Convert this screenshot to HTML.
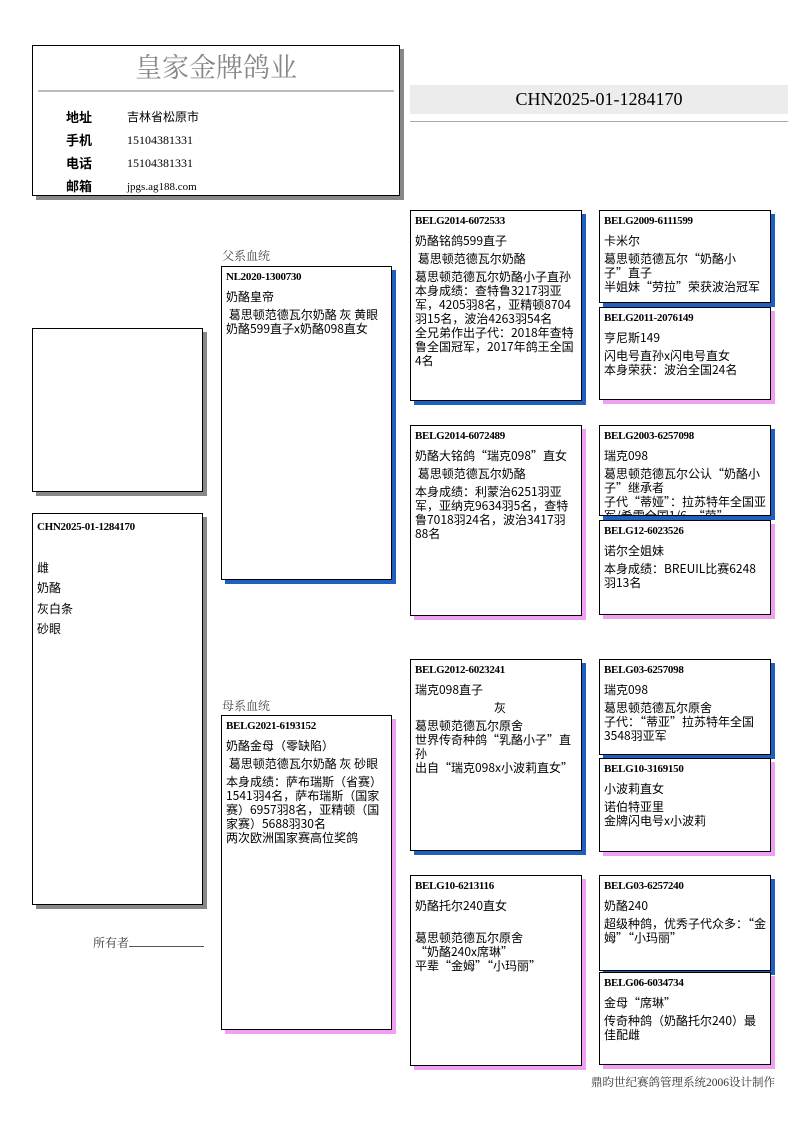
<!DOCTYPE html>
<html><head><meta charset="utf-8">
<style>
*{margin:0;padding:0;box-sizing:border-box}
body{width:800px;height:1132px;background:#fff;position:relative;overflow:hidden;font-family:"Liberation Sans","Noto Sans CJK SC","WenQuanYi Zen Hei",sans-serif;font-size:12px;color:#000}
.a{position:absolute}
.box{position:absolute;border:1px solid #000;background:#fff;overflow:hidden;padding:3px 4px;line-height:14px;font-family:"Noto Sans CJK SC","WenQuanYi Zen Hei",sans-serif}
.m{box-shadow:4px 4px 0 #1f5fbf}
.f{box-shadow:4px 4px 0 #f0a0f0}
.g{box-shadow:4px 4px 0 #888}
.id{font-family:"Liberation Serif","Noto Serif CJK SC",serif;font-weight:bold;font-size:11px;letter-spacing:-0.3px;margin-bottom:6px}
.p{margin-bottom:4px}
.serif{font-family:"Liberation Serif","Noto Serif CJK SC",serif}
</style></head><body>

<div class="a g" style="left:32px;top:45px;width:368px;height:151px;border:1px solid #000;background:#fff"></div>
<div class="a serif" style="left:32px;top:50px;width:368px;text-align:center;font-size:27px;color:#888;line-height:36px">皇家金牌鸽业</div>
<div class="a" style="left:38px;top:90px;width:356px;height:2px;background:#bbb"></div>
<div class="a" style="left:66px;top:106px;font-weight:bold;font-size:13px;line-height:23px">地址<br>手机<br>电话<br>邮箱</div>
<div class="a" style="left:127px;top:106px;font-size:12px;line-height:23px">吉林省松原市<br><span class="serif">15104381331</span><br><span class="serif">15104381331</span><br><span class="serif" style="font-size:11px">jpgs.ag188.com</span></div>

<div class="a serif" style="left:410px;top:85px;width:378px;height:29px;background:#ececec;text-align:center;font-size:18px;line-height:29px">CHN2025-01-1284170</div>
<div class="a" style="left:410px;top:121px;width:378px;height:1px;background:#aaa"></div>

<div class="box g" style="left:32px;top:328px;width:171px;height:164px"></div>
<div class="box g" style="left:32px;top:513px;width:171px;height:392px;line-height:20.5px">
<div class="id" style="margin-bottom:20px">CHN2025-01-1284170</div>
雌<br>奶酪<br>灰白条<br>砂眼</div>
<div class="a serif" style="left:93px;top:934px;color:#333">所有者<span style="display:inline-block;width:75px;border-bottom:1px solid #555;height:12px"></span></div>

<div class="a serif" style="left:222px;top:247px;color:#444">父系血统</div>
<div class="box m" style="left:221px;top:266px;width:171px;height:314px">
<div class="id">NL2020-1300730</div>
<div class="p">奶酪皇帝</div>
<div>&nbsp;葛思顿范德瓦尔奶酪 灰 黄眼</div>
<div>奶酪599直子x奶酪098直女</div></div>

<div class="a serif" style="left:222px;top:697px;color:#444">母系血统</div>
<div class="box f" style="left:221px;top:715px;width:171px;height:315px">
<div class="id">BELG2021-6193152</div>
<div class="p">奶酪金母（零缺陷）</div>
<div class="p">&nbsp;葛思顿范德瓦尔奶酪 灰 砂眼</div>
<div>本身成绩：萨布瑞斯（省赛）1541羽4名，萨布瑞斯（国家赛）6957羽8名，亚精顿（国家赛）5688羽30名</div>
<div>两次欧洲国家赛高位奖鸽</div></div>

<div class="box m" style="left:410px;top:210px;width:172px;height:191px">
<div class="id">BELG2014-6072533</div>
<div class="p">奶酪铭鸽599直子</div>
<div class="p">&nbsp;葛思顿范德瓦尔奶酪</div>
<div>葛思顿范德瓦尔奶酪小子直孙</div>
<div>本身成绩：查特鲁3217羽亚军，4205羽8名，亚精顿8704羽15名，波治4263羽54名</div>
<div>全兄弟作出子代：2018年查特鲁全国冠军，2017年鸽王全国4名</div></div>

<div class="box f" style="left:410px;top:425px;width:172px;height:191px">
<div class="id">BELG2014-6072489</div>
<div class="p">奶酪大铭鸽“瑞克098”直女</div>
<div class="p">&nbsp;葛思顿范德瓦尔奶酪</div>
<div>本身成绩：利蒙治6251羽亚军，亚纳克9634羽5名，查特鲁7018羽24名，波治3417羽88名</div></div>

<div class="box m" style="left:410px;top:659px;width:172px;height:192px">
<div class="id">BELG2012-6023241</div>
<div class="p">瑞克098直子</div>
<div class="p" style="text-align:center">&nbsp;&nbsp;&nbsp;灰</div>
<div>葛思顿范德瓦尔原舍</div>
<div>世界传奇种鸽“乳酪小子”直孙</div>
<div>出自“瑞克098x小波莉直女”</div></div>

<div class="box f" style="left:410px;top:875px;width:172px;height:191px">
<div class="id">BELG10-6213116</div>
<div class="p">奶酪托尔240直女</div>
<div style="height:14px"></div>
<div>葛思顿范德瓦尔原舍</div>
<div>“奶酪240x席琳”</div>
<div>平辈“金姆”“小玛丽”</div></div>

<div class="box m" style="left:599px;top:210px;width:172px;height:93px">
<div class="id">BELG2009-6111599</div>
<div class="p">卡米尔</div>
<div>葛思顿范德瓦尔“奶酪小子”直子</div>
<div>半姐妹“劳拉”荣获波治冠军</div></div>

<div class="box f" style="left:599px;top:307px;width:172px;height:93px">
<div class="id">BELG2011-2076149</div>
<div class="p">亨尼斯149</div>
<div>闪电号直孙x闪电号直女</div>
<div>本身荣获：波治全国24名</div></div>

<div class="box m" style="left:599px;top:425px;width:172px;height:91px">
<div class="id">BELG2003-6257098</div>
<div class="p">瑞克098</div>
<div>葛思顿范德瓦尔公认“奶酪小子”继承者</div>
<div>子代“蒂娅”：拉苏特年全国亚军/希雷全国1/6，“茵”</div></div>

<div class="box f" style="left:599px;top:520px;width:172px;height:95px">
<div class="id">BELG12-6023526</div>
<div class="p">诺尔全姐妹</div>
<div>本身成绩：BREUIL比赛6248羽13名</div></div>

<div class="box m" style="left:599px;top:659px;width:172px;height:96px">
<div class="id">BELG03-6257098</div>
<div class="p">瑞克098</div>
<div>葛思顿范德瓦尔原舍</div>
<div>子代：“蒂亚”拉苏特年全国3548羽亚军</div></div>

<div class="box f" style="left:599px;top:758px;width:172px;height:94px">
<div class="id">BELG10-3169150</div>
<div class="p">小波莉直女</div>
<div>诺伯特亚里</div>
<div>金牌闪电号x小波莉</div></div>

<div class="box m" style="left:599px;top:875px;width:172px;height:96px">
<div class="id">BELG03-6257240</div>
<div class="p">奶酪240</div>
<div>超级种鸽，优秀子代众多：“金姆”“小玛丽”</div></div>

<div class="box f" style="left:599px;top:972px;width:172px;height:93px">
<div class="id">BELG06-6034734</div>
<div class="p">金母“席琳”</div>
<div>传奇种鸽（奶酪托尔240）最佳配雌</div></div>

<div class="a serif" style="left:560px;top:1074px;width:215px;text-align:right;font-size:11.5px;color:#333">鼎昀世纪赛鸽管理系统2006设计制作</div>
</body></html>
